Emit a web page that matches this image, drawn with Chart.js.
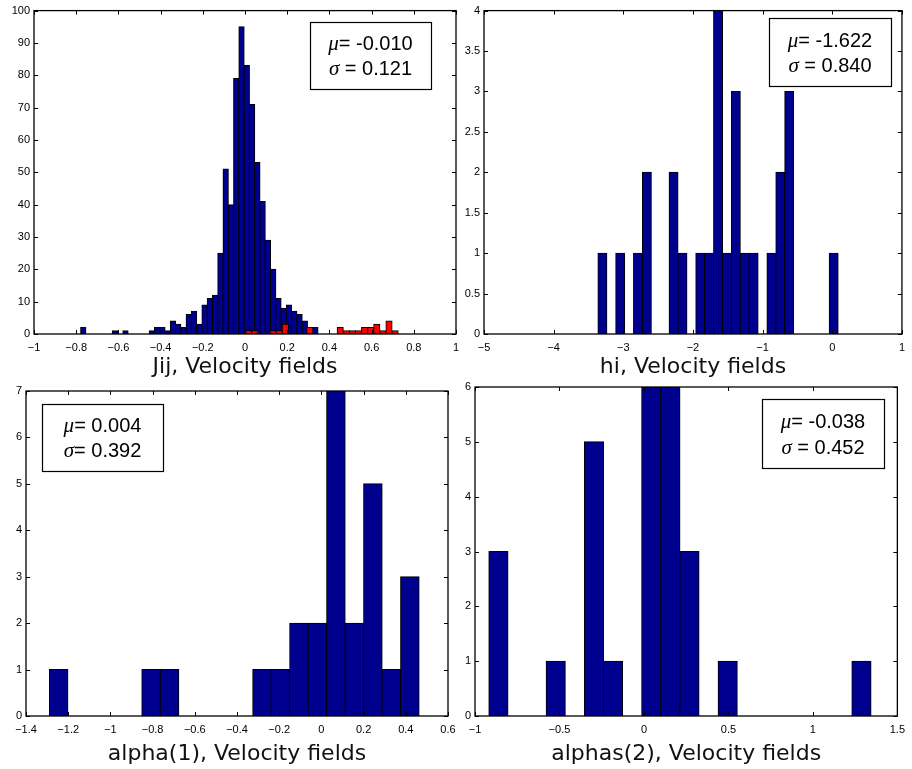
<!DOCTYPE html>
<html>
<head>
<meta charset="utf-8">
<title>Velocity fields histograms</title>
<script src="https://cdn.jsdelivr.net/npm/chart.js@4.4.0/dist/chart.umd.min.js"></script>
<style>
  html, body { margin: 0; padding: 0; background: #fff; }
  #wrap { position: relative; width: 912px; height: 769px; }
  #wrap canvas { position: absolute; left: 0; top: 0; }
</style>
</head>
<body>
<div id="wrap">
  <canvas id="jijChart" width="912" height="769"></canvas>
  <canvas id="hiChart" width="912" height="769"></canvas>
  <canvas id="alpha1Chart" width="912" height="769"></canvas>
  <canvas id="alpha2Chart" width="912" height="769"></canvas>
</div>
<script>
// Histogram counts, one value per bin (left to right).

// Jij: blue = all couplings, red = second set drawn on top
const jijBlueStart = -0.779;
const jijBlueWidth = 0.025;
const jijBlueCounts = [2, 0, 0, 0, 0, 0, 1, 0, 1, 0, 0, 0, 0, 1, 2, 2, 1, 4, 3, 2, 6, 7, 3,
  9, 11, 12, 25, 51, 40, 79, 95, 83, 71, 53, 41, 29, 20, 11, 8, 9, 7, 6, 4, 1, 2];
const jijRedStart = 0.0033;
const jijRedWidth = 0.0289;
const jijRedCounts = [1, 1, 0, 0, 1, 1, 3, 0, 0, 0, 2, 0, 0, 0, 0, 2, 1, 1, 1, 2, 2, 3, 1, 4, 1];
const jijXTicks = [-1, -0.8, -0.6, -0.4, -0.2, 0, 0.2, 0.4, 0.6, 0.8, 1];
const jijYTicks = [0, 10, 20, 30, 40, 50, 60, 70, 80, 90, 100];
const jijStatLines = [['μ', '= -0.010'], ['σ', ' = 0.121']];

// hi
const hiStart = -3.364;
const hiWidth = 0.1277;
const hiCounts = [1, 0, 1, 0, 1, 2, 0, 0, 2, 1, 0, 1, 1, 4, 1, 3, 1, 1, 0, 1, 2, 3, 0, 0, 0, 0, 1];
const hiXTicks = [-5, -4, -3, -2, -1, 0, 1];
const hiYTicks = [0, 0.5, 1, 1.5, 2, 2.5, 3, 3.5, 4];
const hiStatLines = [['μ', '= -1.622'], ['σ', ' = 0.840']];

// alpha(1)
const alpha1Start = -1.289;
const alpha1Width = 0.0876;
const alpha1Counts = [1, 0, 0, 0, 0, 1, 1, 0, 0, 0, 0, 1, 1, 2, 2, 7, 2, 5, 1, 3];
const alpha1XTicks = [-1.4, -1.2, -1, -0.8, -0.6, -0.4, -0.2, 0, 0.2, 0.4, 0.6];
const alpha1YTicks = [0, 1, 2, 3, 4, 5, 6, 7];
const alpha1StatLines = [['μ', '= 0.004'], ['σ', '= 0.392']];

// alphas(2)
const alpha2Start = -0.918;
const alpha2Width = 0.1131;
const alpha2Counts = [3, 0, 0, 1, 0, 5, 1, 0, 6, 6, 3, 0, 1, 0, 0, 0, 0, 0, 0, 1];
const alpha2XTicks = [-1, -0.5, 0, 0.5, 1, 1.5];
const alpha2YTicks = [0, 1, 2, 3, 4, 5, 6];
const alpha2StatLines = [['μ', '= -0.038'], ['σ', ' = 0.452']];

const BLUE = '#00008f';
const RED = '#ff0000';
const TICK_FONT = { family: 'Liberation Sans, Arial, sans-serif', size: 11 };
const TITLE_FONT = { family: 'DejaVu Sans, sans-serif', size: 22 };
const Y_AXIS_W = 26;

const panels = [
  {
    canvas: 'jijChart', title: 'Jij, Velocity fields',
    series: [
      { start: jijBlueStart, width: jijBlueWidth, counts: jijBlueCounts, color: BLUE },
      { start: jijRedStart, width: jijRedWidth, counts: jijRedCounts, color: RED }
    ],
    xTicks: jijXTicks, yTicks: jijYTicks, stats: jijStatLines,
    area: { left: 34, top: 10, right: 456, bottom: 334 }, xAxisH: 46,
    statBox: { x: 310, y: 22, w: 121, h: 67 }
  },
  {
    canvas: 'hiChart', title: 'hi, Velocity fields',
    series: [{ start: hiStart, width: hiWidth, counts: hiCounts, color: BLUE }],
    xTicks: hiXTicks, yTicks: hiYTicks, stats: hiStatLines,
    area: { left: 484, top: 7, right: 908, bottom: 334 }, xAxisH: 46,
    statBox: { x: 769, y: 18, w: 122, h: 68 }
  },
  {
    canvas: 'alpha1Chart', title: 'alpha(1), Velocity fields',
    series: [{ start: alpha1Start, width: alpha1Width, counts: alpha1Counts, color: BLUE }],
    xTicks: alpha1XTicks, yTicks: alpha1YTicks, stats: alpha1StatLines,
    area: { left: 26, top: 391, right: 448, bottom: 716 }, xAxisH: 51,
    statBox: { x: 42, y: 404, w: 121, h: 67 }
  },
  {
    canvas: 'alpha2Chart', title: 'alphas(2), Velocity fields',
    series: [{ start: alpha2Start, width: alpha2Width, counts: alpha2Counts, color: BLUE }],
    xTicks: alpha2XTicks, yTicks: alpha2YTicks, stats: alpha2StatLines,
    area: { left: 475, top: 387, right: 902, bottom: 716 }, xAxisH: 51,
    statBox: { x: 762, y: 399, w: 122, h: 69 }
  }
];

function fmtTick(v) {
  const s = String(Number(v.toFixed(3)));
  return s.replace('-', '\u2212');
}

// MATLAB-like frame: box around the axes, inward ticks on all sides, stats box
const matlabFrame = {
  id: 'matlabFrame',
  afterDraw(chart, args, opts) {
    const ctx = chart.ctx;
    const a = chart.chartArea;
    const xs = chart.scales.x;
    const ys = chart.scales.y;
    const tl = 4;
    ctx.save();
    ctx.strokeStyle = '#000';
    ctx.lineWidth = 1;
    ctx.beginPath();
    xs.ticks.forEach(t => {
      const px = Math.round(xs.getPixelForValue(t.value)) + 0.5;
      ctx.moveTo(px, a.bottom); ctx.lineTo(px, a.bottom - tl);
      ctx.moveTo(px, a.top); ctx.lineTo(px, a.top + tl);
    });
    ys.ticks.forEach(t => {
      const py = Math.round(ys.getPixelForValue(t.value)) + 0.5;
      ctx.moveTo(a.left, py); ctx.lineTo(a.left + tl, py);
      ctx.moveTo(a.right, py); ctx.lineTo(a.right - tl, py);
    });
    ctx.stroke();
    ctx.lineWidth = 1.3;
    ctx.strokeRect(a.left, a.top, a.right - a.left, a.bottom - a.top);

    // statistics box
    const b = opts.box;
    ctx.fillStyle = '#fff';
    ctx.fillRect(b.x, b.y, b.w, b.h);
    ctx.lineWidth = 1.2;
    ctx.strokeRect(b.x + 0.5, b.y + 0.5, b.w, b.h);
    ctx.fillStyle = '#000';
    ctx.textBaseline = 'middle';
    ctx.textAlign = 'left';
    const greekFont = 'italic 21px "Liberation Serif", serif';
    const numFont = '20px "Liberation Sans", Arial, sans-serif';
    const cx = b.x + b.w / 2;
    opts.lines.forEach((line, i) => {
      const cy = b.y + b.h * (i === 0 ? 0.34 : 0.71);
      ctx.font = greekFont;
      const w1 = ctx.measureText(line[0]).width;
      ctx.font = numFont;
      const w2 = ctx.measureText(line[1]).width;
      let x = cx - (w1 + w2) / 2;
      ctx.font = greekFont;
      ctx.fillText(line[0], x, cy);
      ctx.font = numFont;
      ctx.fillText(line[1], x + w1, cy);
    });
    ctx.restore();
  }
};

function drawHistogram(p) {
  const xMin = p.xTicks[0];
  const xMax = p.xTicks[p.xTicks.length - 1];
  const yMin = p.yTicks[0];
  const yMax = p.yTicks[p.yTicks.length - 1];

  const datasets = p.series.map((s, i) => ({
    data: s.counts.map((c, k) => ({ x: s.start + (k + 0.5) * s.width, y: c })),
    xAxisID: i === 0 ? 'x' : 'x' + (i + 1),
    backgroundColor: s.color,
    borderColor: '#000',
    borderWidth: 1,
    borderSkipped: false,
    inflateAmount: 0.5,
    grouped: false,
    barPercentage: 1,
    categoryPercentage: 1,
    order: p.series.length - i
  }));

  const scales = {
    x: {
      type: 'linear', position: 'bottom', min: xMin, max: xMax, offset: false,
      afterBuildTicks: sc => { sc.ticks = p.xTicks.map(v => ({ value: v })); },
      afterFit: sc => { sc.height = p.xAxisH; },
      grid: { display: false, drawTicks: false, tickLength: 0 },
      border: { display: false },
      ticks: {
        autoSkip: false, maxRotation: 0, padding: 7, color: '#000', font: TICK_FONT,
        callback: v => fmtTick(v)
      },
      title: {
        display: true, text: p.title, color: '#111', font: TITLE_FONT,
        padding: { top: 0, bottom: 0 }
      }
    },
    y: {
      type: 'linear', min: yMin, max: yMax,
      afterBuildTicks: sc => { sc.ticks = p.yTicks.map(v => ({ value: v })); },
      afterFit: sc => { sc.width = Y_AXIS_W; },
      grid: { display: false, drawTicks: false, tickLength: 0 },
      border: { display: false },
      ticks: {
        autoSkip: false, padding: 4, color: '#000', font: TICK_FONT,
        callback: v => fmtTick(v)
      }
    }
  };
  p.series.slice(1).forEach((s, i) => {
    scales['x' + (i + 2)] = { type: 'linear', display: false, min: xMin, max: xMax, offset: false };
  });

  new Chart(document.getElementById(p.canvas), {
    type: 'bar',
    data: { datasets: datasets },
    options: {
      responsive: false,
      animation: false,
      layout: {
        padding: {
          left: p.area.left - Y_AXIS_W,
          top: p.area.top,
          right: 912 - p.area.right,
          bottom: 769 - p.area.bottom - p.xAxisH
        }
      },
      scales: scales,
      plugins: {
        legend: { display: false },
        tooltip: { enabled: false },
        matlabFrame: { box: p.statBox, lines: p.stats }
      }
    },
    plugins: [matlabFrame]
  });
}

panels.forEach(drawHistogram);
</script>
</body>
</html>
